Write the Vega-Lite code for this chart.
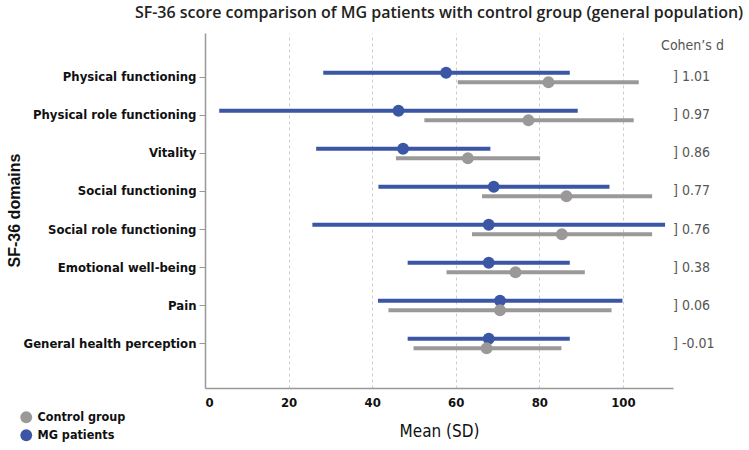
{
  "$schema": "https://vega.github.io/schema/vega-lite/v6.json",
  "autosize": {"type": "none"},
  "padding": {"left": 205, "top": 33, "right": 76, "bottom": 62},
  "width": 468,
  "height": 355,
  "background": "white",
  "title": {
    "text": "SF-36 score comparison of MG patients with control group (general population)",
    "anchor": "middle",
    "offset": 12,
    "fontSize": 16,
    "font": "Open Sans",
    "fontWeight": 600,
    "color": "#222222"
  },
  "datasets": {
    "scores": [
      {"domain": "Physical functioning", "group": "MG patients", "mean": 57.7, "lo": 28.3, "hi": 87.3},
      {"domain": "Physical functioning", "group": "Control group", "mean": 82.2, "lo": 60.5, "hi": 103.8},
      {"domain": "Physical role functioning", "group": "MG patients", "mean": 46.3, "lo": 3.4, "hi": 89.2},
      {"domain": "Physical role functioning", "group": "Control group", "mean": 77.4, "lo": 52.5, "hi": 102.6},
      {"domain": "Vitality", "group": "MG patients", "mean": 47.4, "lo": 26.6, "hi": 68.3},
      {"domain": "Vitality", "group": "Control group", "mean": 62.9, "lo": 45.7, "hi": 80.2},
      {"domain": "Social functioning", "group": "MG patients", "mean": 69.1, "lo": 41.5, "hi": 96.8},
      {"domain": "Social functioning", "group": "Control group", "mean": 86.5, "lo": 66.3, "hi": 107.0},
      {"domain": "Social role functioning", "group": "MG patients", "mean": 67.9, "lo": 25.7, "hi": 110.1},
      {"domain": "Social role functioning", "group": "Control group", "mean": 85.4, "lo": 63.9, "hi": 107.0},
      {"domain": "Emotional well-being", "group": "MG patients", "mean": 67.9, "lo": 48.5, "hi": 87.3},
      {"domain": "Emotional well-being", "group": "Control group", "mean": 74.3, "lo": 57.8, "hi": 90.9},
      {"domain": "Pain", "group": "MG patients", "mean": 70.6, "lo": 41.4, "hi": 99.9},
      {"domain": "Pain", "group": "Control group", "mean": 70.6, "lo": 43.9, "hi": 97.3},
      {"domain": "General health perception", "group": "MG patients", "mean": 67.9, "lo": 48.5, "hi": 87.3},
      {"domain": "General health perception", "group": "Control group", "mean": 67.4, "lo": 49.9, "hi": 85.3}
    ],
    "cohen": [
      {"domain": "Physical functioning", "d": "]  1.01"},
      {"domain": "Physical role functioning", "d": "]  0.97"},
      {"domain": "Vitality", "d": "]  0.86"},
      {"domain": "Social functioning", "d": "]  0.77"},
      {"domain": "Social role functioning", "d": "]  0.76"},
      {"domain": "Emotional well-being", "d": "]  0.38"},
      {"domain": "Pain", "d": "]  0.06"},
      {"domain": "General health perception", "d": "]  -0.01"}
    ]
  },
  "config": {
    "view": {"stroke": null},
    "axis": {"labelFont": "DejaVu Sans Condensed, Open Sans", "titleFont": "Liberation Sans"}
  },
  "layer": [
    {
      "data": {"name": "scores"},
      "mark": {"type": "rule", "strokeWidth": 4},
      "encoding": {
        "y": {
          "field": "domain", "type": "nominal",
          "sort": ["Physical functioning", "Physical role functioning", "Vitality", "Social functioning", "Social role functioning", "Emotional well-being", "Pain", "General health perception"],
          "scale": {"type": "band", "paddingInner": 0, "paddingOuter": 0.67},
          "axis": {
            "orient": "left",
            "title": "SF-36 domains",
            "titleFontSize": 16, "titleFontWeight": "bold", "titleColor": "#111111",
            "titleBaseline": "alphabetic", "titleX": -186, "titleY": 177,
            "labelFontSize": 13, "labelFontWeight": "bold", "labelColor": "#111111", "labelLimit": 0,
            "labelPadding": 3, "tickSize": 6, "tickColor": "#999999",
            "domainColor": "#999999", "domainWidth": 1.5, "grid": false
          }
        },
        "yOffset": {
          "field": "group", "type": "nominal",
          "sort": ["MG patients", "Control group"],
          "scale": {"paddingInner": 0, "paddingOuter": 1.11}
        },
        "x": {
          "field": "lo", "type": "quantitative",
          "scale": {"domain": [0, 112], "nice": false},
          "axis": {
            "title": "Mean (SD)", "titleFontSize": 17, "titleFontWeight": "normal",
            "titleFont": "DejaVu Sans Condensed, Open Sans", "titleColor": "#111111", "titlePadding": 14,
            "values": [0, 20, 40, 60, 80, 100],
            "labelFontSize": 13, "labelFontWeight": "bold", "labelColor": "#111111", "labelPadding": 8,
            "ticks": false, "domainColor": "#999999", "domainWidth": 1.5,
            "grid": true, "gridDash": [3, 3], "gridColor": "#cccccc", "gridWidth": 1
          }
        },
        "x2": {"field": "hi"},
        "color": {
          "field": "group", "type": "nominal",
          "scale": {"domain": ["Control group", "MG patients"], "range": ["#9b9898", "#3a56a5"]},
          "legend": {
            "title": null, "orient": "none", "legendX": -185, "legendY": 378,
            "symbolType": "circle", "symbolSize": 140, "symbolOpacity": 1, "symbolStrokeWidth": 0,
            "labelFont": "DejaVu Sans Condensed, Open Sans", "labelFontSize": 12.5, "labelFontWeight": "bold",
            "labelColor": "#111111", "rowPadding": 5, "labelOffset": 5
          }
        }
      }
    },
    {
      "data": {"name": "scores"},
      "mark": {"type": "point", "filled": true, "size": 140, "opacity": 1, "shape": "circle"},
      "encoding": {
        "y": {"field": "domain", "type": "nominal", "sort": ["Physical functioning", "Physical role functioning", "Vitality", "Social functioning", "Social role functioning", "Emotional well-being", "Pain", "General health perception"], "axis": null},
        "yOffset": {"field": "group", "type": "nominal", "sort": ["MG patients", "Control group"]},
        "x": {"field": "mean", "type": "quantitative"},
        "color": {"field": "group", "type": "nominal"}
      }
    },
    {
      "data": {"name": "cohen"},
      "mark": {"type": "text", "align": "left", "baseline": "middle", "fontSize": 14, "font": "DejaVu Sans Condensed, Open Sans", "color": "#555555"},
      "encoding": {
        "y": {
          "field": "domain", "type": "nominal",
          "sort": ["Physical functioning", "Physical role functioning", "Vitality", "Social functioning", "Social role functioning", "Emotional well-being", "Pain", "General health perception"],
          "axis": {
            "orient": "right", "title": "Cohen’s d", "labels": false, "ticks": false, "domain": false, "grid": false,
            "titleAngle": 0, "titleAlign": "center", "titleBaseline": "middle", "titleX": 19, "titleY": 12,
            "titleFont": "DejaVu Sans Condensed, Open Sans", "titleFontSize": 14, "titleFontWeight": "normal", "titleColor": "#555555"
          }
        },
        "x": {"datum": 112},
        "text": {"field": "d"}
      }
    }
  ],
  "resolve": {"axis": {"y": "independent"}}
}
